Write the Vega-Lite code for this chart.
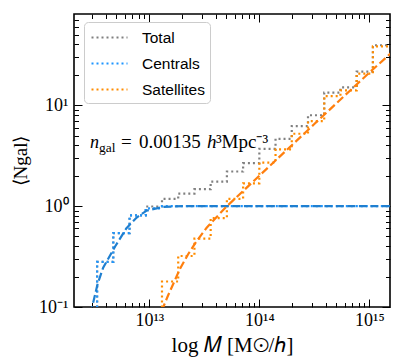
{
  "$schema": "https://vega.github.io/schema/vega-lite/v6.json",
  "width": 316,
  "height": 293,
  "autosize": {"type": "none"},
  "padding": {"left": 74, "top": 14, "right": 25, "bottom": 54},
  "background": "white",
  "config": {
    "view": {"stroke": "black", "strokeWidth": 1.6},
    "axis": {"grid": false, "domain": false, "tickColor": "black", "tickWidth": 1, "labelColor": "black", "titleColor": "black", "labelFont": "Liberation Serif", "titleFont": "Liberation Serif", "titleFontWeight": "normal"},
    "text": {"font": "Liberation Serif", "color": "black", "align": "left", "baseline": "alphabetic"}
  },
  "datasets": {
    "steps": [
      {"series": "Total", "i": 0, "M": 3.35e12, "N": 0.05},
      {"series": "Total", "i": 1, "M": 3.35e12, "N": 0.28},
      {"series": "Total", "i": 2, "M": 4.70e12, "N": 0.54},
      {"series": "Total", "i": 3, "M": 6.607e12, "N": 0.81},
      {"series": "Total", "i": 4, "M": 9.279e12, "N": 0.99},
      {"series": "Total", "i": 5, "M": 1.303e13, "N": 1.18},
      {"series": "Total", "i": 6, "M": 1.830e13, "N": 1.33},
      {"series": "Total", "i": 7, "M": 2.570e13, "N": 1.47},
      {"series": "Total", "i": 8, "M": 3.610e13, "N": 1.75},
      {"series": "Total", "i": 9, "M": 5.070e13, "N": 2.2},
      {"series": "Total", "i": 10, "M": 7.120e13, "N": 2.66},
      {"series": "Total", "i": 11, "M": 1.0e14, "N": 3.69},
      {"series": "Total", "i": 12, "M": 1.404e14, "N": 4.64},
      {"series": "Total", "i": 13, "M": 1.972e14, "N": 6.21},
      {"series": "Total", "i": 14, "M": 2.770e14, "N": 7.94},
      {"series": "Total", "i": 15, "M": 3.890e14, "N": 13.3},
      {"series": "Total", "i": 16, "M": 5.464e14, "N": 15.0},
      {"series": "Total", "i": 17, "M": 7.674e14, "N": 21.5},
      {"series": "Total", "i": 18, "M": 1.078e15, "N": 39.2},
      {"series": "Total", "i": 19, "M": 1.514e15, "N": 39.2},
      {"series": "Centrals", "i": 0, "M": 3.35e12, "N": 0.05},
      {"series": "Centrals", "i": 1, "M": 3.35e12, "N": 0.28},
      {"series": "Centrals", "i": 2, "M": 4.70e12, "N": 0.54},
      {"series": "Centrals", "i": 3, "M": 6.607e12, "N": 0.81},
      {"series": "Centrals", "i": 4, "M": 9.279e12, "N": 0.95},
      {"series": "Centrals", "i": 5, "M": 1.303e13, "N": 1.0},
      {"series": "Centrals", "i": 6, "M": 1.514e15, "N": 1.0},
      {"series": "Satellites", "i": 0, "M": 1.303e13, "N": 0.05},
      {"series": "Satellites", "i": 1, "M": 1.303e13, "N": 0.179},
      {"series": "Satellites", "i": 2, "M": 1.830e13, "N": 0.32},
      {"series": "Satellites", "i": 3, "M": 2.570e13, "N": 0.475},
      {"series": "Satellites", "i": 4, "M": 3.610e13, "N": 0.76},
      {"series": "Satellites", "i": 5, "M": 5.070e13, "N": 1.18},
      {"series": "Satellites", "i": 6, "M": 7.120e13, "N": 1.68},
      {"series": "Satellites", "i": 7, "M": 1.0e14, "N": 2.69},
      {"series": "Satellites", "i": 8, "M": 1.404e14, "N": 3.64},
      {"series": "Satellites", "i": 9, "M": 1.972e14, "N": 5.21},
      {"series": "Satellites", "i": 10, "M": 2.770e14, "N": 6.94},
      {"series": "Satellites", "i": 11, "M": 3.890e14, "N": 12.3},
      {"series": "Satellites", "i": 12, "M": 5.464e14, "N": 14.0},
      {"series": "Satellites", "i": 13, "M": 7.674e14, "N": 20.5},
      {"series": "Satellites", "i": 14, "M": 1.078e15, "N": 38.2},
      {"series": "Satellites", "i": 15, "M": 1.514e15, "N": 38.2}
    ],
    "cmodel": [
      {"M": 2.951e12, "N": 0.085},
      {"M": 3.020e12, "N": 0.1},
      {"M": 3.388e12, "N": 0.17},
      {"M": 3.802e12, "N": 0.245},
      {"M": 4.898e12, "N": 0.40},
      {"M": 6.166e12, "N": 0.60},
      {"M": 7.674e12, "N": 0.77},
      {"M": 9.441e12, "N": 0.90},
      {"M": 1.318e13, "N": 0.98},
      {"M": 1.995e13, "N": 0.998},
      {"M": 3.162e13, "N": 1.0},
      {"M": 1.585e15, "N": 1.0}
    ],
    "smodel": [
      {"M": 1.288e13, "N": 0.07},
      {"M": 1.340e13, "N": 0.1},
      {"M": 1.479e13, "N": 0.13},
      {"M": 1.652e13, "N": 0.17},
      {"M": 1.901e13, "N": 0.24},
      {"M": 2.259e13, "N": 0.335},
      {"M": 2.692e13, "N": 0.45},
      {"M": 3.319e13, "N": 0.61},
      {"M": 4.093e13, "N": 0.78},
      {"M": 5.082e13, "N": 1.0},
      {"M": 7.079e13, "N": 1.40},
      {"M": 1.0e14, "N": 2.0},
      {"M": 1.778e14, "N": 3.6},
      {"M": 3.162e14, "N": 6.5},
      {"M": 5.623e14, "N": 11.7},
      {"M": 1.0e15, "N": 21},
      {"M": 1.585e15, "N": 33}
    ],
    "note": [
      {"M": 2.88e12, "N": 3.72}
    ]
  },
  "layer": [
    {
      "data": {"name": "steps"},
      "mark": {"type": "line", "interpolate": "step-after", "clip": true, "strokeWidth": 2.2, "strokeDash": [2, 3]},
      "encoding": {
        "x": {"field": "M", "type": "quantitative",
              "scale": {"type": "log", "domain": [2.065e12, 1.542e15], "nice": false},
              "axis": {"orient": "bottom",
                       "values": [3e12,4e12,5e12,6e12,7e12,8e12,9e12,1e13,2e13,3e13,4e13,5e13,6e13,7e13,8e13,9e13,1e14,2e14,3e14,4e14,5e14,6e14,7e14,8e14,9e14,1e15],
                       "labelExpr": "datum.value == 1e13 ? '10¹³' : datum.value == 1e14 ? '10¹⁴' : datum.value == 1e15 ? '10¹⁵' : ''",
                       "tickSize": {"condition": {"test": "datum.value == 1e13 || datum.value == 1e14 || datum.value == 1e15", "value": -8}, "value": -4.5},
                       "labelFontSize": 18, "labelPadding": 12, "labelFlush": false,
                       "title": "log 𝑀  [M⊙/ℎ]", "titleFontSize": 21, "titlePadding": 5}},
        "y": {"field": "N", "type": "quantitative",
              "scale": {"type": "log", "domain": [0.1, 80], "nice": false},
              "axis": {"orient": "left",
                       "values": [0.1,0.2,0.3,0.4,0.5,0.6,0.7,0.8,0.9,1,2,3,4,5,6,7,8,9,10,20,30,40,50,60,70],
                       "labelExpr": "datum.value == 0.1 ? '10⁻¹' : datum.value == 1 ? '10⁰' : datum.value == 10 ? '10¹' : ''",
                       "tickSize": {"condition": {"test": "datum.value == 0.1 || datum.value == 1 || datum.value == 10", "value": -8}, "value": -4.5},
                       "labelFontSize": 18, "labelPadding": 14, "labelFlush": false,
                       "title": "⟨Ngal⟩", "titleFontSize": 19, "titlePadding": 8}},
        "color": {"field": "series", "type": "nominal",
                  "scale": {"domain": ["Total", "Centrals", "Satellites"], "range": ["#808080", "#1e96ff", "#ff8c00"]},
                  "legend": {"orient": "none", "legendX": 10, "legendY": 8, "title": null,
                             "symbolType": "M-2,0H2", "symbolSize": 324, "symbolStrokeWidth": 2.2, "symbolDash": [2, 3],
                             "symbolFillColor": "transparent", "symbolOffset": 10,
                             "labelFont": "Liberation Sans", "labelFontSize": 15.5, "labelColor": "black", "labelOffset": 22,
                             "padding": 5, "fillColor": "white", "strokeColor": "#cccccc", "cornerRadius": 4, "rowPadding": 7}},
        "order": {"field": "i", "type": "quantitative"}
      }
    },
    {
      "data": {"name": "cmodel"},
      "mark": {"type": "line", "clip": true, "strokeWidth": 2.2, "strokeDash": [8, 3.5], "color": "#1f7fd0"},
      "encoding": {
        "x": {"field": "M", "type": "quantitative", "axis": null},
        "y": {"field": "N", "type": "quantitative", "axis": null}
      }
    },
    {
      "data": {"name": "smodel"},
      "mark": {"type": "line", "clip": true, "strokeWidth": 2.2, "strokeDash": [8, 3.5], "color": "#ff7f0e"},
      "encoding": {
        "x": {"field": "M", "type": "quantitative", "axis": null},
        "y": {"field": "N", "type": "quantitative", "axis": null}
      }
    },
    {
      "data": {"name": "note"},
      "mark": {"type": "text", "fontSize": 18, "fontStyle": "italic", "text": "n", "dx": 0},
      "encoding": {
        "x": {"field": "M", "type": "quantitative", "axis": null},
        "y": {"field": "N", "type": "quantitative", "axis": null}
      }
    },
    {
      "data": {"name": "note"},
      "mark": {"type": "text", "fontSize": 13.5, "text": "gal", "dx": 9, "dy": 4},
      "encoding": {
        "x": {"field": "M", "type": "quantitative", "axis": null},
        "y": {"field": "N", "type": "quantitative", "axis": null}
      }
    },
    {
      "data": {"name": "note"},
      "mark": {"type": "text", "fontSize": 19, "text": "=", "dx": 31},
      "encoding": {
        "x": {"field": "M", "type": "quantitative", "axis": null},
        "y": {"field": "N", "type": "quantitative", "axis": null}
      }
    },
    {
      "data": {"name": "note"},
      "mark": {"type": "text", "fontSize": 19, "text": "0.00135", "dx": 49},
      "encoding": {
        "x": {"field": "M", "type": "quantitative", "axis": null},
        "y": {"field": "N", "type": "quantitative", "axis": null}
      }
    },
    {
      "data": {"name": "note"},
      "mark": {"type": "text", "fontSize": 19, "fontStyle": "italic", "text": "h", "dx": 117},
      "encoding": {
        "x": {"field": "M", "type": "quantitative", "axis": null},
        "y": {"field": "N", "type": "quantitative", "axis": null}
      }
    },
    {
      "data": {"name": "note"},
      "mark": {"type": "text", "fontSize": 19, "text": "³Mpc⁻³", "dx": 126},
      "encoding": {
        "x": {"field": "M", "type": "quantitative", "axis": null},
        "y": {"field": "N", "type": "quantitative", "axis": null}
      }
    },
    {
      "data": {"name": "cmodel"},
      "mark": {"type": "point", "opacity": 0},
      "encoding": {
        "x": {"field": "M", "type": "quantitative",
              "axis": {"orient": "top", "labels": false, "title": null,
                       "values": [3e12,4e12,5e12,6e12,7e12,8e12,9e12,1e13,2e13,3e13,4e13,5e13,6e13,7e13,8e13,9e13,1e14,2e14,3e14,4e14,5e14,6e14,7e14,8e14,9e14,1e15],
                       "tickSize": {"condition": {"test": "datum.value == 1e13 || datum.value == 1e14 || datum.value == 1e15", "value": -8}, "value": -4.5}}},
        "y": {"field": "N", "type": "quantitative",
              "axis": {"orient": "right", "labels": false, "title": null,
                       "values": [0.1,0.2,0.3,0.4,0.5,0.6,0.7,0.8,0.9,1,2,3,4,5,6,7,8,9,10,20,30,40,50,60,70],
                       "tickSize": {"condition": {"test": "datum.value == 0.1 || datum.value == 1 || datum.value == 10", "value": -8}, "value": -4.5}}}
      }
    }
  ],
  "resolve": {"axis": {"x": "independent", "y": "independent"}}
}
